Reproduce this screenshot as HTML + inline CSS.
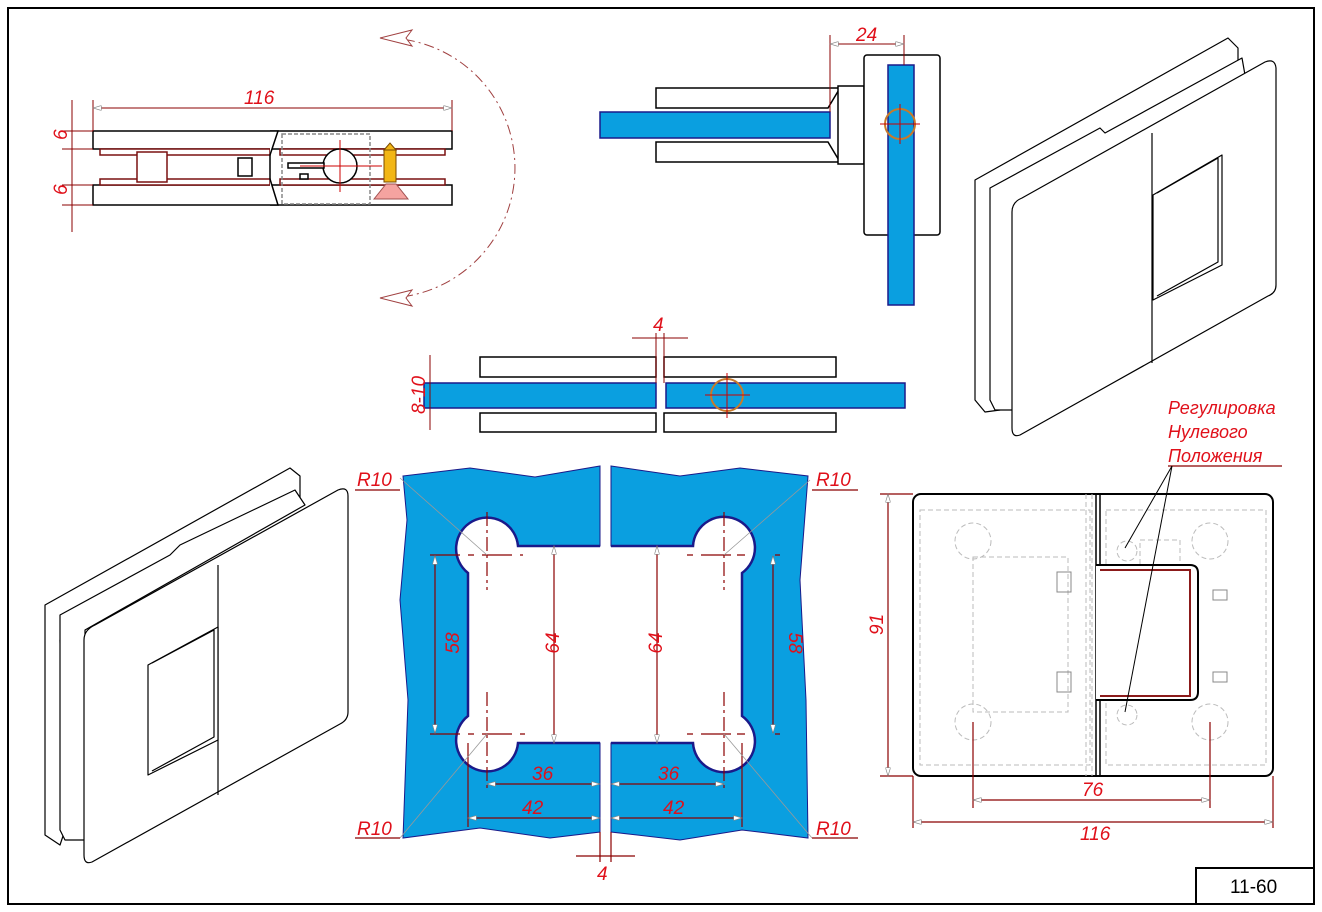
<!DOCTYPE html>
<html><head><meta charset="utf-8"><style>
body{margin:0;background:#fff}
svg{display:block}
text{font-family:"Liberation Sans",sans-serif;font-style:italic;fill:#e0101a}
</style></head><body>
<svg width="1322" height="912" viewBox="0 0 1322 912" xmlns="http://www.w3.org/2000/svg">
<defs>
<marker id="a" viewBox="0 0 10 6" refX="10" refY="3" markerWidth="10" markerHeight="5" orient="auto-start-reverse" markerUnits="userSpaceOnUse"><path d="M0,0L10,3L0,6z" fill="#fff" stroke="#888" stroke-width="0.8"/></marker>
</defs>
<rect x="8" y="8" width="1306" height="896" fill="none" stroke="#000" stroke-width="2"/>
<rect x="1196" y="868" width="118" height="36" fill="none" stroke="#000" stroke-width="2"/>
<text x="1230" y="893" style="font-style:normal;fill:#000;font-size:19px">11-60</text>

<!-- top-left side view -->
<g stroke="#000" fill="#fff" stroke-width="1.5">
<rect x="93" y="131" width="359" height="18"/>
<rect x="93" y="185" width="359" height="20"/>
<rect x="100" y="149" width="170" height="6" stroke="#7a1010"/>
<rect x="100" y="179" width="170" height="6" stroke="#7a1010"/>
<rect x="280" y="149" width="165" height="6" stroke="#7a1010"/>
<rect x="280" y="179" width="165" height="6" stroke="#7a1010"/>
<rect x="137" y="152" width="30" height="30" stroke="#7a1010"/>
<rect x="238" y="158" width="14" height="18"/>
<path d="M270,131 L278,131 L270,155 L270,179 L278,205 L270,205" fill="#fff"/>
<rect x="282" y="134" width="88" height="70" fill="none" stroke="#888" stroke-dasharray="4,2"/>
<circle cx="340" cy="166" r="17" fill="#fff"/>
<rect x="288" y="163" width="36" height="5"/>
<rect x="300" y="174" width="8" height="5"/>
</g>
<line x1="382" y1="166" x2="300" y2="166" stroke="#c00" stroke-width="1"/>
<line x1="340" y1="140" x2="340" y2="192" stroke="#c00" stroke-width="1"/>
<rect x="384" y="150" width="12" height="32" fill="#f2b616" stroke="#7a4b00"/>
<path d="M384,150 L390,143 L396,150z" fill="#f2b616" stroke="#7a4b00"/>
<path d="M374,199 L386,184 L396,184 L408,199z" fill="#f5a3a0" stroke="#a05050"/>
<g stroke="#8b0000" stroke-width="1">
<line x1="93" y1="100" x2="93" y2="131"/><line x1="452" y1="100" x2="452" y2="131"/>
<line x1="93" y1="108" x2="452" y2="108" marker-start="url(#a)" marker-end="url(#a)"/>
<line x1="62" y1="131" x2="93" y2="131"/><line x1="62" y1="149" x2="93" y2="149"/>
<line x1="62" y1="185" x2="93" y2="185"/><line x1="62" y1="205" x2="93" y2="205"/>
<line x1="72" y1="100" x2="72" y2="232"/>
</g>
<text x="244" y="104" font-size="19">116</text>
<text x="60" y="147" font-size="19" transform="rotate(-90 60 140)">6</text>
<text x="60" y="202" font-size="19" transform="rotate(-90 60 195)">6</text>
<path d="M385,38 A130,130 0 0 1 385,298" fill="none" stroke="#a04040" stroke-dasharray="10,4,2,4"/>
<path d="M380,38 L412,30 L406,38 L412,46z" fill="#fff" stroke="#a04040"/>
<path d="M380,298 L412,290 L406,298 L412,306z" fill="#fff" stroke="#a04040"/>

<!-- top middle view -->
<g stroke="#000" stroke-width="1.5" fill="#fff">
<path d="M656,88 L840,88 L828,108 L656,108z"/>
<path d="M656,142 L828,142 L840,162 L656,162z"/>
<rect x="838" y="86" width="26" height="78"/>
<rect x="864" y="55" width="76" height="180" rx="3"/>
</g>
<rect x="600" y="112" width="230" height="26" fill="#0a9fe0" stroke="#1a1a8a" stroke-width="1.5"/>
<rect x="888" y="65" width="26" height="240" fill="#0a9fe0" stroke="#1a1a8a" stroke-width="1.5"/>
<circle cx="900" cy="124" r="15" fill="none" stroke="#c87a2a" stroke-width="2"/>
<line x1="880" y1="124" x2="920" y2="124" stroke="#c00"/><line x1="900" y1="104" x2="900" y2="144" stroke="#c00"/>
<g stroke="#8b0000"><line x1="830" y1="35" x2="830" y2="112"/><line x1="904" y1="35" x2="904" y2="65"/>
<line x1="830" y1="44" x2="904" y2="44" marker-start="url(#a)" marker-end="url(#a)"/></g>
<text x="856" y="41" font-size="19">24</text>

<!-- middle horizontal view -->
<g stroke="#000" stroke-width="1.5" fill="#fff">
<rect x="480" y="357" width="176" height="20"/>
<rect x="480" y="413" width="176" height="19"/>
<rect x="664" y="357" width="172" height="20"/>
<rect x="664" y="413" width="172" height="19"/>
</g>
<rect x="424" y="383" width="232" height="25" fill="#0a9fe0" stroke="#1a1a8a" stroke-width="1.5"/>
<rect x="666" y="383" width="239" height="25" fill="#0a9fe0" stroke="#1a1a8a" stroke-width="1.5"/>
<circle cx="727" cy="395" r="16" fill="none" stroke="#c87a2a" stroke-width="2"/>
<line x1="705" y1="395" x2="750" y2="395" stroke="#c00"/><line x1="727" y1="373" x2="727" y2="418" stroke="#c00"/>
<g stroke="#8b0000"><line x1="656" y1="333" x2="656" y2="383"/><line x1="664" y1="333" x2="664" y2="383"/>
<line x1="632" y1="338" x2="688" y2="338"/><line x1="430" y1="355" x2="430" y2="430"/></g>
<text x="653" y="331" font-size="19">4</text>
<text x="418" y="402" font-size="19" transform="rotate(-90 418 395)" text-anchor="middle">8-10</text>

<!-- glass cutouts -->
<path d="M403,476 L470,468 L535,477 L600,466 L600,546 L518,546 A31,31 0 1 0 468,573 L468,716 A31,31 0 1 0 518,743 L600,743 L600,832 L550,838 L480,828 L403,838 L408,700 L400,600 L407,520z" fill="#0a9fe0" stroke="#1a1a8a" stroke-width="1"/>
<path d="M611,466 L680,476 L740,468 L808,476 L800,580 L806,700 L808,838 L742,830 L680,840 L611,832 L611,743 L693,743 A31,31 0 1 0 742,716 L742,573 A31,31 0 1 0 693,546 L611,546z" fill="#0a9fe0" stroke="#1a1a8a" stroke-width="1"/>
<g stroke="#1a1a8a" stroke-width="2.5" fill="none">
<path d="M600,546 L518,546 A31,31 0 1 0 468,573 L468,716 A31,31 0 1 0 518,743 L600,743"/>
<path d="M611,743 L693,743 A31,31 0 1 0 742,716 L742,573 A31,31 0 1 0 693,546 L611,546"/>
</g>
<g stroke="#8b0000" stroke-width="1.2">
<line x1="430" y1="555" x2="523" y2="555" stroke-dasharray="30,8,6,8"/>
<line x1="430" y1="734" x2="525" y2="734" stroke-dasharray="30,8,6,8"/>
<line x1="687" y1="555" x2="780" y2="555" stroke-dasharray="6,8,30"/>
<line x1="687" y1="734" x2="780" y2="734" stroke-dasharray="6,8,30"/>
<line x1="487" y1="512" x2="487" y2="590" stroke-dasharray="14,4,3,4"/>
<line x1="487" y1="692" x2="487" y2="790" stroke-dasharray="14,4,3,4"/>
<line x1="724" y1="512" x2="724" y2="590" stroke-dasharray="14,4,3,4"/>
<line x1="724" y1="692" x2="724" y2="790" stroke-dasharray="14,4,3,4"/>
<line x1="435" y1="556" x2="435" y2="733" marker-start="url(#a)" marker-end="url(#a)"/>
<line x1="554" y1="546" x2="554" y2="743" marker-start="url(#a)" marker-end="url(#a)"/>
<line x1="657" y1="546" x2="657" y2="743" marker-start="url(#a)" marker-end="url(#a)"/>
<line x1="773" y1="556" x2="773" y2="733" marker-start="url(#a)" marker-end="url(#a)"/>
<line x1="468" y1="743" x2="468" y2="827"/><line x1="742" y1="743" x2="742" y2="827"/>
<line x1="487" y1="784" x2="600" y2="784" marker-start="url(#a)" marker-end="url(#a)"/>
<line x1="611" y1="784" x2="724" y2="784" marker-start="url(#a)" marker-end="url(#a)"/>
<line x1="468" y1="818" x2="600" y2="818" marker-start="url(#a)" marker-end="url(#a)"/>
<line x1="611" y1="818" x2="742" y2="818" marker-start="url(#a)" marker-end="url(#a)"/>
<line x1="600" y1="832" x2="600" y2="862"/><line x1="611" y1="832" x2="611" y2="862"/>
<line x1="576" y1="856" x2="635" y2="856"/>
</g>
<g stroke="#999" stroke-width="0.8">
<line x1="400" y1="478" x2="487" y2="555"/><line x1="400" y1="838" x2="487" y2="734"/>
<line x1="810" y1="480" x2="724" y2="555"/><line x1="812" y1="838" x2="724" y2="734"/>
</g>
<g stroke="#8b0000" stroke-width="1.2"><line x1="355" y1="490" x2="400" y2="490"/><line x1="355" y1="838" x2="400" y2="838"/><line x1="812" y1="490" x2="858" y2="490"/><line x1="812" y1="838" x2="858" y2="838"/></g>
<text x="357" y="486" font-size="19">R10</text><text x="357" y="835" font-size="19">R10</text>
<text x="816" y="486" font-size="19">R10</text><text x="816" y="835" font-size="19">R10</text>
<text x="452" y="650" font-size="19" transform="rotate(-90 452 643)" text-anchor="middle">58</text>
<text x="552" y="650" font-size="19" transform="rotate(-90 552 643)" text-anchor="middle">64</text>
<text x="655" y="650" font-size="19" transform="rotate(-90 655 643)" text-anchor="middle">64</text>
<text x="782" y="636" font-size="19" transform="rotate(90 782 643)" text-anchor="middle">58</text>
<text x="532" y="780" font-size="19">36</text><text x="658" y="780" font-size="19">36</text>
<text x="522" y="814" font-size="19">42</text><text x="663" y="814" font-size="19">42</text>
<text x="597" y="880" font-size="19">4</text>

<!-- bottom right plan -->
<rect x="913" y="494" width="360" height="282" rx="8" fill="#fff" stroke="#000" stroke-width="2"/>
<g stroke="#bbb" fill="none" stroke-dasharray="5,3">
<rect x="920" y="510" width="170" height="255"/><rect x="1106" y="510" width="160" height="255"/>
<rect x="973" y="557" width="95" height="155"/><rect x="1140" y="540" width="40" height="60"/>
<circle cx="973" cy="541" r="18"/><circle cx="1210" cy="541" r="18"/><circle cx="973" cy="722" r="18"/><circle cx="1210" cy="722" r="18"/>
<circle cx="1127" cy="551" r="10"/><circle cx="1127" cy="715" r="10"/>
<line x1="1086" y1="494" x2="1086" y2="776"/><line x1="1092" y1="494" x2="1092" y2="776"/>
</g>
<g stroke="#888" fill="none"><rect x="1213" y="590" width="14" height="10"/><rect x="1213" y="672" width="14" height="10"/>
<rect x="1057" y="572" width="14" height="20"/><rect x="1057" y="672" width="14" height="20"/><rect x="1100" y="574" width="14" height="16"/><rect x="1100" y="676" width="14" height="16"/></g>
<line x1="1096" y1="494" x2="1096" y2="776" stroke="#000" stroke-width="1.5"/>
<line x1="1100" y1="494" x2="1100" y2="776" stroke="#000" stroke-width="1.5"/>
<path d="M1096,565 L1190,565 Q1198,565 1198,573 L1198,692 Q1198,700 1190,700 L1096,700" fill="#fff" stroke="#000" stroke-width="2"/>
<path d="M1100,570 L1190,570 L1190,696 L1100,696" fill="none" stroke="#8b1a1a" stroke-width="2"/>
<g stroke="#8b0000" stroke-width="1.2">
<line x1="880" y1="494" x2="913" y2="494"/><line x1="880" y1="776" x2="913" y2="776"/>
<line x1="888" y1="494" x2="888" y2="776" marker-start="url(#a)" marker-end="url(#a)"/>
<line x1="973" y1="722" x2="973" y2="808"/><line x1="1210" y1="722" x2="1210" y2="808"/>
<line x1="973" y1="800" x2="1210" y2="800" marker-start="url(#a)" marker-end="url(#a)"/>
<line x1="913" y1="776" x2="913" y2="828"/><line x1="1273" y1="776" x2="1273" y2="828"/>
<line x1="913" y1="822" x2="1273" y2="822" marker-start="url(#a)" marker-end="url(#a)"/>
<line x1="1168" y1="466" x2="1282" y2="466"/>
</g>
<g stroke="#000" stroke-width="1"><line x1="1172" y1="466" x2="1125" y2="548"/><line x1="1172" y1="466" x2="1125" y2="712"/></g>
<text x="876" y="642" font-size="19" transform="rotate(-90 876 635)">91</text>
<text x="1082" y="796" font-size="19">76</text>
<text x="1080" y="840" font-size="19">116</text>
<text x="1168" y="414" font-size="18">Регулировка</text>
<text x="1168" y="438" font-size="18">Нулевого</text>
<text x="1168" y="462" font-size="18">Положения</text>

<!-- 3D top right -->
<g stroke="#000" stroke-width="1.2" fill="#fff" stroke-linejoin="round">
<path d="M975,180 L1228,38 L1238,48 L1238,80 L1000,212 L1000,410 L985,412 L975,400z"/>
<path d="M990,188 L1100,128 L1105,133 L1242,58 L1245,75 L1015,205 L1015,410 L995,410 L990,400z"/>
<path d="M1012,212 Q1012,202 1022,198 L1265,62 Q1275,58 1276,68 L1276,285 Q1276,293 1268,296 L1020,435 Q1012,438 1012,428z"/>
<line x1="1152" y1="133" x2="1152" y2="363"/>
<path d="M1153,195 L1222,155 L1222,265 L1153,300z"/>
<path d="M1157,193 L1218,158 L1218,262 L1157,296" fill="none"/>
</g>
<!-- 3D bottom left -->
<g stroke="#000" stroke-width="1.2" fill="#fff" stroke-linejoin="round">
<path d="M45,605 L290,468 L300,476 L300,500 L60,640 L65,830 L60,845 L45,835z"/>
<path d="M60,615 L170,555 L180,545 L295,490 L305,505 L85,630 L85,840 L65,840 L60,830z"/>
<path d="M84,640 Q84,630 95,625 L338,490 Q348,486 348,496 L348,712 Q348,720 340,724 L92,862 Q84,865 84,855z"/>
<line x1="218" y1="565" x2="218" y2="795"/>
<path d="M148,665 L218,627 L218,740 L148,775z"/>
<path d="M152,663 L214,630 L214,737 L152,771" fill="none"/>
</g>
</svg>
</body></html>
